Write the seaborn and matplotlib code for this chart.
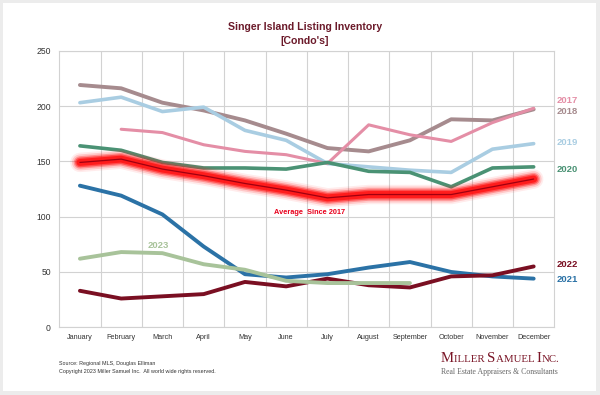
import numpy as np
import pandas as pd
import seaborn as sns
import matplotlib.pyplot as plt
from matplotlib.patches import Rectangle

sns.set_style("white")
plt.rcParams["font.family"] = ["Liberation Sans", "DejaVu Sans"]

# Data
months = ["January", "February", "March", "April", "May", "June", "July",
          "August", "September", "October", "November", "December"]
y2017 = [np.nan, 179, 176, 165, 159, 156, 148, 183, 174, 168, 185, 198]
y2018 = [219, 216, 203, 196, 187, 175, 162, 159, 169, 188, 187, 197]
y2019 = [203, 208, 195, 199, 178, 169, 148, 145, 142, 140, 161, 166]
y2020 = [164, 160, 149, 144, 144, 143, 149, 141, 140, 127, 144, 145]
y2021 = [128, 119, 102, 73, 48, 45, 48, 54, 59, 50, 46, 44]
y2022 = [33, 26, 28, 30, 41, 37, 44, 38, 36, 46, 47, 55]
y2023 = [62, 68, 67, 57, 52, 42, 40, 40, 40, np.nan, np.nan, np.nan]
average = [149, 152, 143, 137, 130, 124, 117, 120, 120, 120, 127, 134]

series = {"2018": y2018, "2019": y2019, "2017": y2017, "2020": y2020,
          "2021": y2021, "2022": y2022, "2023": y2023}
colors = {"2017": "#e48ea6", "2018": "#a68b8e", "2019": "#a9cde2",
          "2020": "#4a9274", "2021": "#2b72a6", "2022": "#7a0f22",
          "2023": "#a8c39a"}
widths = {"2017": 2.2, "2018": 2.8, "2019": 2.6, "2020": 2.6,
          "2021": 2.8, "2022": 2.8, "2023": 2.8}

df = pd.DataFrame(series)
df["Average"] = average
df["x"] = np.arange(len(months))

fig = plt.figure(figsize=(6, 3.95), dpi=100)
fig.patch.set_facecolor("#ececec")
fig.patches.append(Rectangle((3 / 600, 1 - 391 / 395), 593 / 600, 388 / 395,
                             transform=fig.transFigure, facecolor="white",
                             edgecolor="none", zorder=-5))

ax = fig.add_axes([59.3 / 600, 1 - 327.3 / 395, 495 / 600, 276.6 / 395])
ax.set_zorder(2)
ax.set_facecolor("white")

for name in series:
    sns.lineplot(data=df, x="x", y=name, ax=ax, color=colors[name],
                 linewidth=widths[name], solid_capstyle="round", zorder=3)

# glowing average line
for lw, a in [(14, 0.08), (11.5, 0.16), (9, 0.3), (7, 0.5), (5, 0.8)]:
    sns.lineplot(data=df, x="x", y="Average", ax=ax, color="#ff1010",
                 linewidth=lw, alpha=a, solid_capstyle="round", zorder=4)
sns.lineplot(data=df, x="x", y="Average", ax=ax, color="#a00010",
             linewidth=0.9, zorder=5)

ax.set_xlim(-0.5, 11.5)
ax.set_ylim(0, 250)
ax.set_yticks(range(0, 251, 50))
ax.set_xticks(range(12))
ax.set_xticklabels(months, fontsize=5.2, color="#333333")
ax.tick_params(axis="y", labelsize=6.2, colors="#333333", length=0, pad=6)
ax.tick_params(axis="x", length=0, pad=5)
ax.set_xlabel("")
ax.set_ylabel("")

# grid: horizontal at ticks, vertical between months
ax.yaxis.grid(True, color="#d2d2d2", linewidth=0.8)
ax.set_axisbelow(True)
for b in np.arange(0.5, 11.5, 1):
    ax.axvline(b, color="#d2d2d2", linewidth=0.8, zorder=1)
for s in ax.spines.values():
    s.set_color("#d2d2d2")
    s.set_linewidth(0.8)

title_c = "#6b1a2a"
fig.text(305 / 600, 1 - 27.3 / 395, "Singer Island Listing Inventory",
         ha="center", va="center", fontsize=7.6, fontweight="bold", color=title_c)
fig.text(305 / 600, 1 - 40.5 / 395, "[Condo's]",
         ha="center", va="center", fontsize=7.6, fontweight="bold", color=title_c)

labels = [("2017", 100.7), ("2018", 111.7), ("2019", 143), ("2020", 169),
          ("2022", 264.5), ("2021", 279)]
for name, ypix in labels:
    fig.text(557 / 600, 1 - ypix / 395, name, ha="left", va="center",
             fontsize=6.8, fontweight="bold", color=colors[name], zorder=5)
fig.text(158 / 600, 1 - 246 / 395, "2023", ha="center", va="center",
         fontsize=6.8, fontweight="bold", color=colors["2023"], zorder=5)
fig.text(310 / 600, 1 - 213 / 395, "Average  Since 2017", ha="center",
         va="center", fontsize=5.3, fontweight="bold", color="#e8001c", zorder=5)

fig.text(59.3 / 600, 1 - 363 / 395, "Source: Regional MLS, Douglas Elliman",
         fontsize=3.9, color="#333333", va="center")
fig.text(59.3 / 600, 1 - 372 / 395,
         "Copyright 2023 Miller Samuel Inc.  All world wide rights reserved.",
         fontsize=3.9, color="#333333", va="center")

# logo in small caps, built piece by piece
renderer = fig.canvas.get_renderer()
xpos = 441
pieces = [("M", 10.6), ("ILLER ", 7.8), ("S", 10.6), ("AMUEL ", 7.8),
          ("I", 10.6), ("NC.", 7.8)]
for txt, fs in pieces:
    t = fig.text(xpos / 600, 1 - 361.7 / 395, txt, fontsize=fs, color="#7a1526",
                 family="Liberation Serif", va="baseline", ha="left")
    bb = t.get_window_extent(renderer=renderer)
    xpos += bb.width
fig.text(441 / 600, 1 - 374 / 395, "Real Estate Appraisers & Consultants",
         fontsize=5.6, color="#666666", family="Liberation Serif",
         va="baseline", ha="left")

fig.savefig("out.png", dpi=100, facecolor=fig.get_facecolor())
